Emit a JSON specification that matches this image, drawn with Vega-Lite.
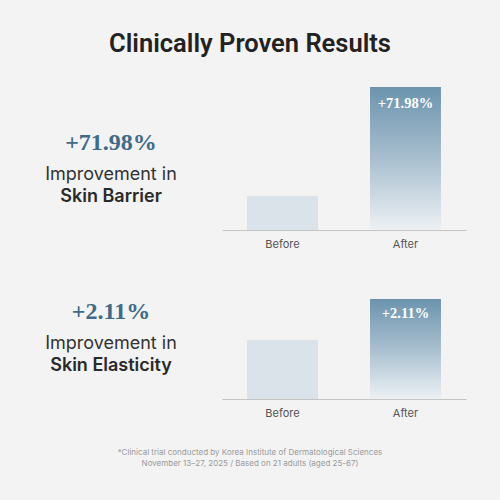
{
  "$schema": "https://vega.github.io/schema/vega-lite/v6.json",
  "background": "#f3f3f3",
  "padding": {"left": 0, "right": 0, "top": 31, "bottom": 14},
  "title": {
    "text": "Clinically Proven Results",
    "font": "Roboto",
    "fontSize": 25.5,
    "fontWeight": 600,
    "color": "#222222",
    "anchor": "middle",
    "offset": 23
  },
  "datasets": {
    "bars": [
      {"metric": "Skin Barrier", "phase": "Before", "value": 34},
      {"metric": "Skin Barrier", "phase": "After", "value": 143, "label": "+71.98%"},
      {"metric": "Skin Elasticity", "phase": "Before", "value": 59},
      {"metric": "Skin Elasticity", "phase": "After", "value": 100, "label": "+2.11%"}
    ],
    "captions": [
      {"metric": "Skin Barrier", "part": "headline", "text": "+71.98%"},
      {"metric": "Skin Barrier", "part": "caption", "text": "Improvement in"},
      {"metric": "Skin Barrier", "part": "name", "text": "Skin Barrier"},
      {"metric": "Skin Elasticity", "part": "headline", "text": "+2.11%"},
      {"metric": "Skin Elasticity", "part": "caption", "text": "Improvement in"},
      {"metric": "Skin Elasticity", "part": "name", "text": "Skin Elasticity"}
    ],
    "notes": [
      {"text": "*Clinical trial conducted by Korea Institute of Dermatological Sciences\nNovember 13–27, 2025 / Based on 21 adults (aged 25-67)"}
    ]
  },
  "config": {"view": {"stroke": null}},
  "spacing": -1,
  "vconcat": [
    {
      "bounds": "flush",
      "spacing": 0,
      "hconcat": [
        {
          "width": 222, "height": 150,
          "data": {"name": "captions"},
          "transform": [{"filter": "datum.metric === 'Skin Barrier'"}],
          "encoding": {
            "y": {"field": "part", "type": "ordinal", "axis": null,
                  "scale": {"type": "point", "domain": ["headline", "caption", "name"], "padding": 0, "range": [72, 117]}},
            "text": {"field": "text"}
          },
          "layer": [
            {"transform": [{"filter": "datum.part === 'headline'"}],
             "mark": {"type": "text", "font": "Liberation Serif", "fontWeight": "bold", "fontSize": 24, "color": "#3f6a8a", "baseline": "middle", "dy": -9}},
            {"transform": [{"filter": "datum.part === 'caption'"}],
             "mark": {"type": "text", "font": "Inter", "fontWeight": 400, "fontSize": 18, "color": "#333333", "baseline": "middle"}},
            {"transform": [{"filter": "datum.part === 'name'"}],
             "mark": {"type": "text", "font": "Inter", "fontWeight": 600, "fontSize": 18, "color": "#2a2a2a", "baseline": "middle"}}
          ]
        },
        {
          "width": 244, "height": 150,
          "data": {"name": "bars"},
          "transform": [{"filter": "datum.metric === 'Skin Barrier'"}],
          "encoding": {
            "x": {"field": "phase", "type": "nominal", "title": null,
                  "scale": {"domain": ["Before", "After"], "paddingInner": 0.423, "paddingOuter": 0.2035},
                  "axis": {"labelAngle": 0, "ticks": false, "domainColor": "#c4c4c4", "domainWidth": 1.2, "labelFont": "Inter", "labelFontSize": 11, "labelColor": "#555555", "labelPadding": 8, "grid": false}},
            "y": {"field": "value", "type": "quantitative", "axis": null, "scale": {"domain": [0, 150], "nice": false}}
          },
          "layer": [
            {"transform": [{"filter": "datum.phase === 'Before'"}],
             "mark": {"type": "bar", "color": "#dbe3ea"}},
            {"transform": [{"filter": "datum.phase === 'After'"}],
             "mark": {"type": "bar", "color": {"gradient": "linear", "x1": 0, "y1": 0, "x2": 0, "y2": 1,
               "stops": [{"offset": 0, "color": "#6c94ae"}, {"offset": 0.5, "color": "#a8bfcf"}, {"offset": 1, "color": "#edf1f4"}]}}},
            {"transform": [{"filter": "datum.phase === 'After'"}],
             "mark": {"type": "text", "font": "Liberation Serif", "fontWeight": "bold", "fontSize": 14.5, "color": "#ffffff", "baseline": "middle", "dy": 16.5},
             "encoding": {"text": {"field": "label"}}}
          ]
        }
      ]
    },
    {
      "bounds": "flush",
      "spacing": 0,
      "hconcat": [
        {
          "width": 222, "height": 150,
          "data": {"name": "captions"},
          "transform": [{"filter": "datum.metric === 'Skin Elasticity'"}],
          "encoding": {
            "y": {"field": "part", "type": "ordinal", "axis": null,
                  "scale": {"type": "point", "domain": ["headline", "caption", "name"], "padding": 0, "range": [72, 117]}},
            "text": {"field": "text"}
          },
          "layer": [
            {"transform": [{"filter": "datum.part === 'headline'"}],
             "mark": {"type": "text", "font": "Liberation Serif", "fontWeight": "bold", "fontSize": 24, "color": "#3f6a8a", "baseline": "middle", "dy": -9}},
            {"transform": [{"filter": "datum.part === 'caption'"}],
             "mark": {"type": "text", "font": "Inter", "fontWeight": 400, "fontSize": 18, "color": "#333333", "baseline": "middle"}},
            {"transform": [{"filter": "datum.part === 'name'"}],
             "mark": {"type": "text", "font": "Inter", "fontWeight": 600, "fontSize": 18, "color": "#2a2a2a", "baseline": "middle"}}
          ]
        },
        {
          "width": 244, "height": 150,
          "data": {"name": "bars"},
          "transform": [{"filter": "datum.metric === 'Skin Elasticity'"}],
          "encoding": {
            "x": {"field": "phase", "type": "nominal", "title": null,
                  "scale": {"domain": ["Before", "After"], "paddingInner": 0.423, "paddingOuter": 0.2035},
                  "axis": {"labelAngle": 0, "ticks": false, "domainColor": "#c4c4c4", "domainWidth": 1.2, "labelFont": "Inter", "labelFontSize": 11, "labelColor": "#555555", "labelPadding": 8, "grid": false}},
            "y": {"field": "value", "type": "quantitative", "axis": null, "scale": {"domain": [0, 150], "nice": false}}
          },
          "layer": [
            {"transform": [{"filter": "datum.phase === 'Before'"}],
             "mark": {"type": "bar", "color": "#dbe3ea"}},
            {"transform": [{"filter": "datum.phase === 'After'"}],
             "mark": {"type": "bar", "color": {"gradient": "linear", "x1": 0, "y1": 0, "x2": 0, "y2": 1,
               "stops": [{"offset": 0, "color": "#6c94ae"}, {"offset": 0.5, "color": "#a8bfcf"}, {"offset": 1, "color": "#edf1f4"}]}}},
            {"transform": [{"filter": "datum.phase === 'After'"}],
             "mark": {"type": "text", "font": "Liberation Serif", "fontWeight": "bold", "fontSize": 14.5, "color": "#ffffff", "baseline": "middle", "dy": 15},
             "encoding": {"text": {"field": "label"}}}
          ]
        }
      ]
    },
    {
      "width": 500, "height": 70,
      "data": {"name": "notes"},
      "mark": {"type": "text", "font": "Inter", "fontSize": 8, "color": "#9a9a9a", "lineBreak": "\n", "lineHeight": 11, "baseline": "middle"},
      "encoding": {"text": {"field": "text"}}
    }
  ]
}
